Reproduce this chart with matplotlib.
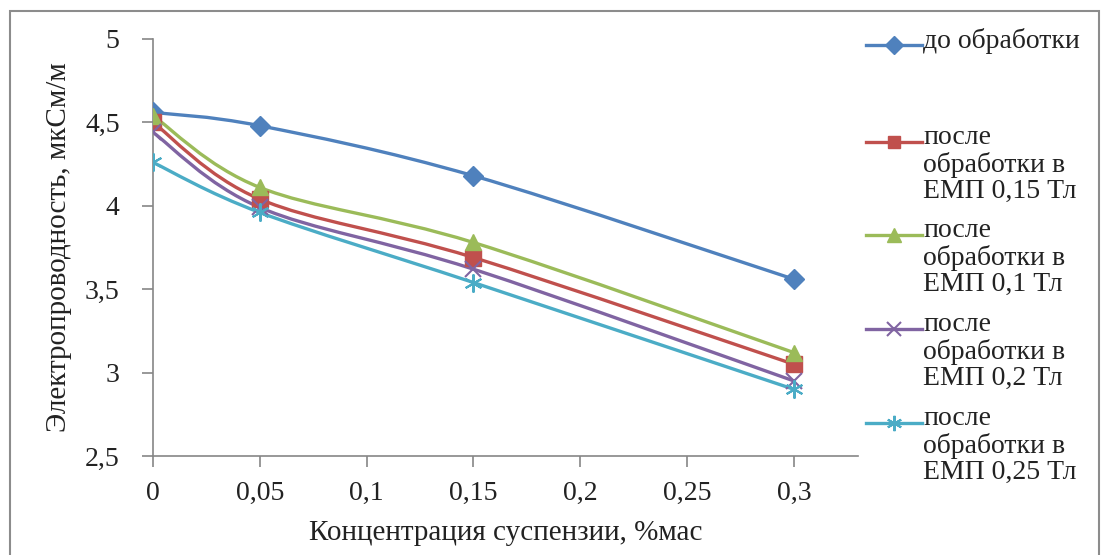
import numpy as np
import matplotlib.pyplot as plt
from matplotlib import font_manager
from matplotlib.path import Path
from matplotlib.patches import PathPatch, Rectangle
from matplotlib.lines import Line2D

# шрифт с засечками, как Times New Roman в оригинале
installed = {f.name for f in font_manager.fontManager.ttflist}
serif_font = next((n for n in ['Liberation Serif', 'Times New Roman',
                               'DejaVu Serif', 'Noto Serif'] if n in installed),
                  'DejaVu Sans')
plt.rcParams['font.family'] = [serif_font, 'DejaVu Sans']

# данные
conc = [0, 0.05, 0.15, 0.3]
before = [4.56, 4.48, 4.18, 3.56]
after_015 = [4.50, 4.04, 3.69, 3.05]
after_01 = [4.54, 4.11, 3.78, 3.12]
after_02 = [4.44, 3.99, 3.62, 2.95]
after_025 = [4.26, 3.96, 3.54, 2.90]

labels = ['до обработки',
          'после\nобработки в\nЕМП 0,15 Тл',
          'после\nобработки в\nЕМП 0,1 Тл',
          'после\nобработки в\nЕМП 0,2 Тл',
          'после\nобработки в\nЕМП 0,25 Тл']
colors = ['#4F81BD', '#C0504D', '#9BBB59', '#8064A2', '#4BACC6']
markers = ['D', 's', '^', 'x', (6, 2, 0)]
msizes = [10.5, 11, 12, 12, 13]
series = [before, after_015, after_01, after_02, after_025]


def smooth_path(x, y):
    # сглаживание как в Excel (кривые Безье)
    p = np.column_stack([x, y])
    n = len(p)
    verts = [p[0]]
    codes = [Path.MOVETO]
    for i in range(n - 1):
        p0 = p[i - 1] if i > 0 else p[i]
        p3 = p[i + 2] if i + 2 < n else p[i + 1]
        c1 = p[i] + (p[i + 1] - p0) / 6
        c2 = p[i + 1] - (p3 - p[i]) / 6
        verts += [c1, c2, p[i + 1]]
        codes += [Path.CURVE4] * 3
    return Path(verts, codes)


fig = plt.figure(figsize=(11.02, 5.55), dpi=100)
fig.patches.append(Rectangle((10 / 1102, -0.01), 1089 / 1102, 1 - 11 / 555 + 0.01,
                             transform=fig.transFigure, fill=False,
                             edgecolor='#8c8c8c', linewidth=1.5))
ax = fig.add_axes([153 / 1102, 1 - 456 / 555, 705 / 1102, 417 / 555])

for ys, c, m, ms in zip(series, colors, markers, msizes):
    ax.add_patch(PathPatch(smooth_path(conc, ys), fill=False, edgecolor=c,
                           linewidth=2.4, zorder=2))
    ax.plot(conc, ys, linestyle='none', marker=m, color=c, markersize=ms,
            markeredgewidth=1.5 if m in ('x', (6, 2, 0)) else 1, zorder=3)

ax.set_xlim(0, 0.33)
ax.set_ylim(2.5, 5)
ax.set_xticks([0, 0.05, 0.1, 0.15, 0.2, 0.25, 0.3])
ax.set_xticklabels(['0', '0,05', '0,1', '0,15', '0,2', '0,25', '0,3'])
ax.set_yticks([2.5, 3, 3.5, 4, 4.5, 5])
ax.set_yticklabels(['2,5', '3', '3,5', '4', '4,5', '5'])
for s in ['top', 'right']:
    ax.spines[s].set_visible(False)
for s in ['left', 'bottom']:
    ax.spines[s].set_color('#868686')
    ax.spines[s].set_linewidth(1.2)
ax.tick_params(colors='#868686', labelcolor='#222222', labelsize=20,
               length=8, width=1.2)
ax.tick_params(axis='x', pad=10)
ax.tick_params(axis='y', pad=16)
ax.set_xlabel('Концентрация суспензии, %мас', fontsize=21, color='#222222',
              labelpad=10)
ax.set_ylabel('Электропроводность, мкСм/м', fontsize=21, color='#222222',
              labelpad=9)

# легенда
leg_y = [45, 142, 235, 329, 423]
for lab, c, m, ms, yp in zip(labels, colors, markers, msizes, leg_y):
    yf = 1 - yp / 555
    fig.add_artist(Line2D([866 / 1102, 922 / 1102], [yf, yf], color=c,
                          linewidth=2.4, transform=fig.transFigure))
    fig.add_artist(Line2D([894 / 1102], [yf], color=c, marker=m,
                          markersize=ms * 0.85, linestyle='none',
                          markeredgewidth=1.5 if m in ('x', (6, 2, 0)) else 1,
                          transform=fig.transFigure))
    fig.text(923 / 1102, yf + 17 / 555, lab, fontsize=20, color='#222222',
             va='top', ha='left', linespacing=1.08)

fig.savefig('out.png', dpi=100, facecolor='white')
